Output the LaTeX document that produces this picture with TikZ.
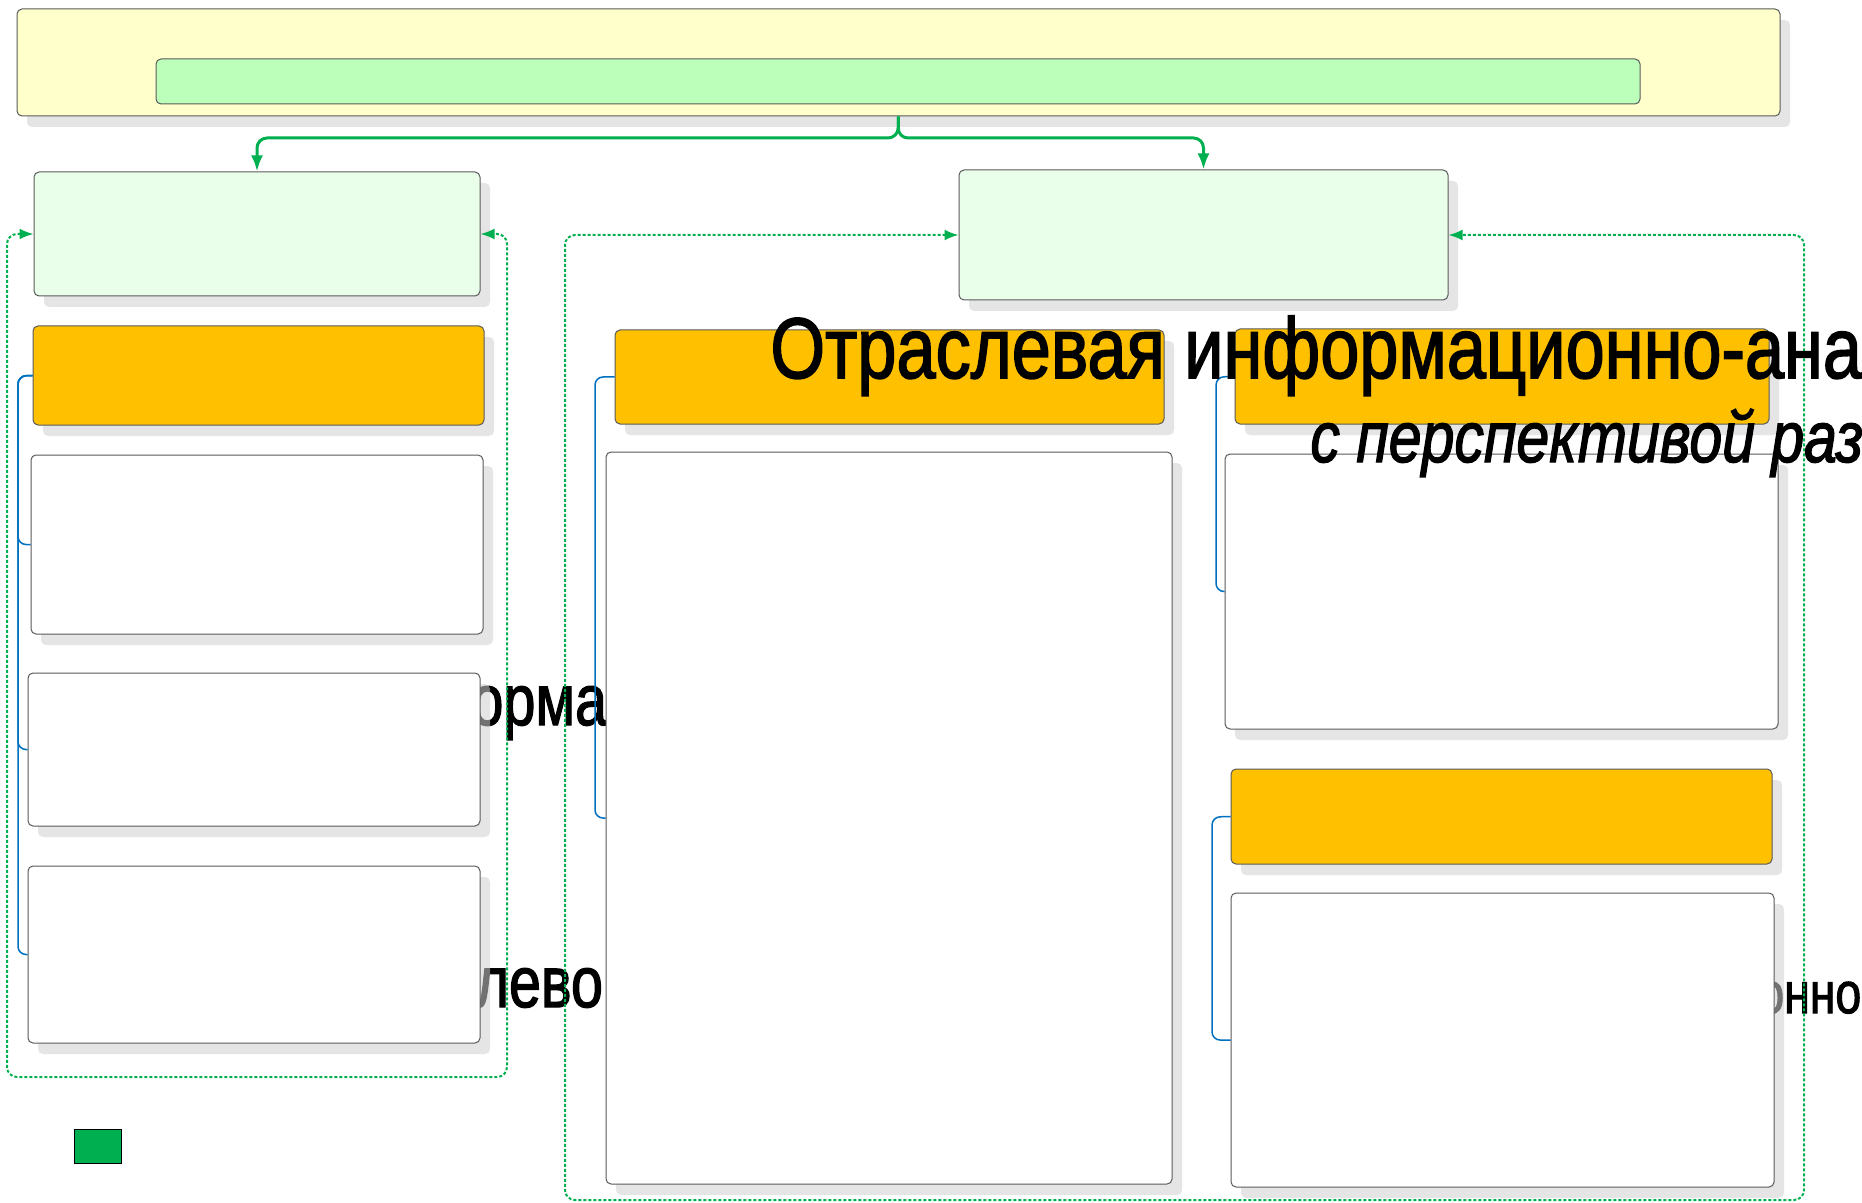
\documentclass[tikz,border=0pt]{standalone}
\usepackage{graphicx}
\usepackage{fontspec}
\setmainfont{Liberation Sans}
\newfontface\heavyfont[FakeBold=2]{Liberation Sans}
\newfontface\heavyit[FakeBold=2]{Liberation Sans Italic}
\usetikzlibrary{arrows.meta,shadows}
\definecolor{boxborder}{HTML}{5A5A5A}
\definecolor{paleyellow}{HTML}{FFFFCC}
\definecolor{palegreen}{HTML}{BBFFBB}
\definecolor{mint}{HTML}{EAFFEA}
\definecolor{amber}{HTML}{FFC000}
\definecolor{linegreen}{HTML}{00B050}
\definecolor{lineblue}{HTML}{0070C0}
\begin{document}
\begin{tikzpicture}[x=0.5pt,y=-0.5pt,
  box/.style={draw=boxborder, line width=0.5pt, rounded corners=2.5pt, inner sep=0pt, anchor=center},
  shadowed/.style={copy shadow={shadow xshift=5pt, shadow yshift=-5.5pt, draw=none, fill=black!18, opacity=0.55}},
  gline/.style={draw=linegreen, line width=1.5pt, rounded corners=5pt, -{Latex[length=8pt,width=6pt]}},
  gloop/.style={draw=linegreen, line width=1pt, dash pattern=on 1.5pt off 1pt, rounded corners=5pt, {Latex[length=7pt,width=5.5pt]}-{Latex[length=7pt,width=5.5pt]}},
  bline/.style={draw=lineblue, line width=0.75pt, rounded corners=4pt},
  frag/.style={inner sep=0pt, anchor=base west, font=\heavyfont\fontsize{36}{40}\selectfont},
  bigtext/.style={inner sep=0pt, anchor=base west}]
\useasboundingbox (0,0) rectangle (1862,1203);
\fill[white] (0,0) rectangle (1862,1203);
\begin{scope}
\clip (0,0) rectangle (1862,1203);
% text fragments lying behind the boxes
\node[frag] (f1) at (471,725) {\scalebox{0.8}[1]{орма}};
\node[frag] (f2) at (475,1007) {\scalebox{0.8}[1]{лево}};
\node[frag, font=\heavyfont\fontsize{29}{33}\selectfont] (f3) at (1758,1013) {\scalebox{0.8}[1]{онно}};
% boxes
\node[box, shadowed, fill=paleyellow, minimum width=881.5pt, minimum height=53.5pt] (Y) at (898.5,62.5) {};
\node[box, fill=palegreen, minimum width=742pt, minimum height=22.5pt] (G) at (898,81.5) {};
\node[box, shadowed, fill=mint, minimum width=223pt, minimum height=62pt] (A) at (257,234) {};
\node[box, shadowed, fill=mint, minimum width=244.5pt, minimum height=65pt] (B) at (1203.5,235) {};
\node[box, shadowed, fill=amber, minimum width=225.5pt, minimum height=49.5pt] (O1) at (258.5,375.5) {};
\node[box, shadowed, fill=amber, minimum width=274.5pt, minimum height=47pt] (O2) at (889.5,377) {};
\node[box, shadowed, fill=amber, minimum width=267pt, minimum height=47.5pt] (O3) at (1502,376.5) {};
\node[box, shadowed, fill=amber, minimum width=270.5pt, minimum height=47.5pt] (O4) at (1501.5,816.5) {};
\node[box, shadowed, fill=white, minimum width=226pt, minimum height=89.5pt] (W1) at (257,544.5) {};
\node[box, shadowed, fill=white, minimum width=226pt, minimum height=76.5pt] (W2) at (254,749.5) {};
\node[box, shadowed, fill=white, minimum width=226pt, minimum height=88.5pt] (W3) at (254,954.5) {};
\node[box, shadowed, fill=white, minimum width=283pt, minimum height=366pt] (W4) at (889,818) {};
\node[box, shadowed, fill=white, minimum width=276.5pt, minimum height=137.5pt] (W5) at (1501.5,591.5) {};
\node[box, shadowed, fill=white, minimum width=271.5pt, minimum height=147pt] (W6) at (1502.5,1040) {};
\node[draw=black, line width=0.5pt, fill=linegreen, inner sep=0pt, minimum width=23.5pt, minimum height=17pt] (leg) at (97.5,1146) {};
% helper coordinates
\coordinate (brace) at (898,138);
\coordinate (L1) at (7,1077);
\coordinate (L2) at (507,1077);
\coordinate (R1) at (565,1200);
\coordinate (R2) at (1804,1200);
\coordinate (b1) at (18,376);
\coordinate (b2) at (595,377);
\coordinate (b3) at (1216,377);
\coordinate (b4) at (1212,817);
% connectors
\draw[gline] (Y.south) -- (brace) -| (A.north);
\draw[gline] (Y.south) -- (brace) -| (B.north);
\draw[gloop] (A.west) -| (L1) -- (L2) |- (A.east);
\draw[gloop] (B.west) -| (R1) -- (R2) |- (B.east);
\draw[bline] (O1.west) -- (b1) |- (W1.west);
\draw[bline] (O1.west) -- (b1) |- (W2.west);
\draw[bline] (O1.west) -- (b1) |- (W3.west);
\draw[bline] (O2.west) -- (b2) |- (W4.west);
\draw[bline] (O3.west) -- (b3) |- (W5.west);
\draw[bline] (O4.west) -- (b4) |- (W6.west);
% overflowing texts on top
\node[bigtext, font=\heavyfont\fontsize{43}{48}\selectfont] (t1) at (770,378) {\scalebox{0.818}[1]{Отраслевая информационно-аналитическая}};
\node[bigtext, font=\heavyit\fontsize{36}{40}\selectfont] (t2) at (1310,462) {\scalebox{0.82}[1]{с перспективой развития}};
\end{scope}
\end{tikzpicture}
\end{document}
